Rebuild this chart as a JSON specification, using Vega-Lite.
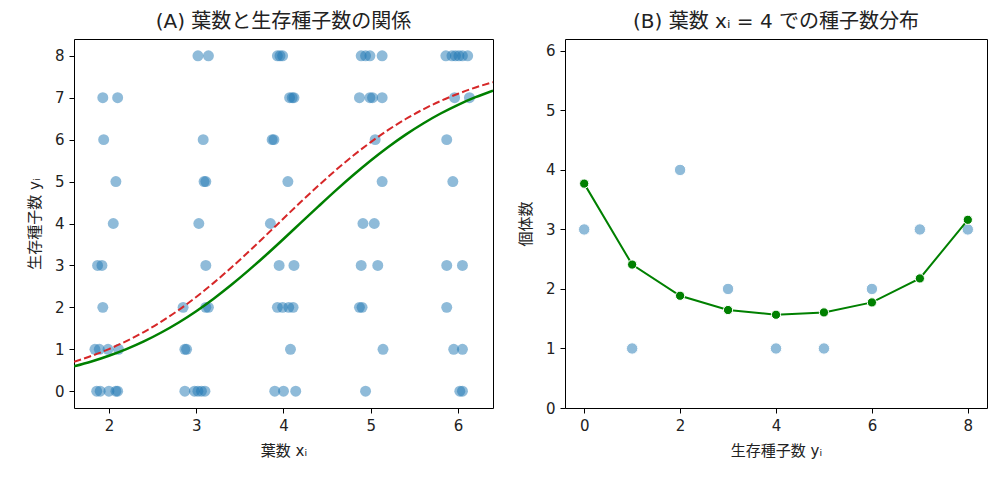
{
  "$schema": "https://vega.github.io/schema/vega-lite/v6.json",
  "padding": {"left": 26, "top": 11, "right": 6, "bottom": 10},
  "spacing": 23,
  "datasets": {
    "seeds": [
      {"x": 1.93, "y": 7}, {"x": 2.10, "y": 7}, {"x": 1.94, "y": 6}, {"x": 2.08, "y": 5}, {"x": 2.05, "y": 4},
      {"x": 1.87, "y": 3}, {"x": 1.92, "y": 3}, {"x": 1.93, "y": 2}, {"x": 1.84, "y": 1}, {"x": 1.89, "y": 1},
      {"x": 1.99, "y": 1}, {"x": 2.11, "y": 1}, {"x": 1.86, "y": 0}, {"x": 1.90, "y": 0}, {"x": 2.00, "y": 0},
      {"x": 2.08, "y": 0}, {"x": 2.10, "y": 0},
      {"x": 3.02, "y": 8}, {"x": 3.14, "y": 8}, {"x": 3.08, "y": 6}, {"x": 3.09, "y": 5}, {"x": 3.11, "y": 5},
      {"x": 3.03, "y": 4}, {"x": 3.11, "y": 3}, {"x": 2.85, "y": 2}, {"x": 3.11, "y": 2}, {"x": 3.14, "y": 2},
      {"x": 2.87, "y": 1}, {"x": 2.89, "y": 1}, {"x": 2.87, "y": 0}, {"x": 2.98, "y": 0}, {"x": 3.02, "y": 0},
      {"x": 3.06, "y": 0}, {"x": 3.10, "y": 0},
      {"x": 3.93, "y": 8}, {"x": 3.96, "y": 8}, {"x": 3.99, "y": 8}, {"x": 4.07, "y": 7}, {"x": 4.10, "y": 7},
      {"x": 4.12, "y": 7}, {"x": 3.87, "y": 6}, {"x": 3.89, "y": 6}, {"x": 4.05, "y": 5}, {"x": 3.85, "y": 4},
      {"x": 3.95, "y": 3}, {"x": 4.12, "y": 3}, {"x": 3.93, "y": 2}, {"x": 3.99, "y": 2}, {"x": 4.06, "y": 2},
      {"x": 4.11, "y": 2}, {"x": 4.08, "y": 1}, {"x": 3.90, "y": 0}, {"x": 4.00, "y": 0}, {"x": 4.14, "y": 0},
      {"x": 4.89, "y": 8}, {"x": 4.94, "y": 8}, {"x": 4.99, "y": 8}, {"x": 5.13, "y": 8}, {"x": 4.87, "y": 7},
      {"x": 4.99, "y": 7}, {"x": 5.02, "y": 7}, {"x": 5.13, "y": 7}, {"x": 5.05, "y": 6}, {"x": 5.13, "y": 5},
      {"x": 4.91, "y": 4}, {"x": 5.04, "y": 4}, {"x": 4.89, "y": 3}, {"x": 5.08, "y": 3}, {"x": 4.87, "y": 2},
      {"x": 4.90, "y": 2}, {"x": 5.14, "y": 1}, {"x": 4.94, "y": 0},
      {"x": 5.86, "y": 8}, {"x": 5.93, "y": 8}, {"x": 5.97, "y": 8}, {"x": 6.01, "y": 8}, {"x": 6.05, "y": 8},
      {"x": 6.11, "y": 8}, {"x": 5.96, "y": 7}, {"x": 6.13, "y": 7}, {"x": 5.87, "y": 6}, {"x": 5.94, "y": 5},
      {"x": 5.87, "y": 3}, {"x": 6.05, "y": 3}, {"x": 5.87, "y": 2}, {"x": 5.95, "y": 1}, {"x": 6.05, "y": 1},
      {"x": 6.02, "y": 0}, {"x": 6.05, "y": 0}
    ],
    "fitGreen": [
      {"x": 1.6, "y": 0.593}, {"x": 1.8, "y": 0.709}, {"x": 2.0, "y": 0.846}, {"x": 2.2, "y": 1.005},
      {"x": 2.4, "y": 1.189}, {"x": 2.6, "y": 1.401}, {"x": 2.8, "y": 1.640}, {"x": 3.0, "y": 1.909},
      {"x": 3.2, "y": 2.207}, {"x": 3.4, "y": 2.532}, {"x": 3.6, "y": 2.881}, {"x": 3.8, "y": 3.249},
      {"x": 4.0, "y": 3.631}, {"x": 4.2, "y": 4.020}, {"x": 4.4, "y": 4.408}, {"x": 4.6, "y": 4.790},
      {"x": 4.8, "y": 5.156}, {"x": 5.0, "y": 5.503}, {"x": 5.2, "y": 5.825}, {"x": 5.4, "y": 6.120},
      {"x": 5.6, "y": 6.386}, {"x": 5.8, "y": 6.623}, {"x": 6.0, "y": 6.831}, {"x": 6.2, "y": 7.012},
      {"x": 6.4, "y": 7.169}
    ],
    "fitRed": [
      {"x": 1.6, "y": 0.703}, {"x": 1.8, "y": 0.842}, {"x": 2.0, "y": 1.005}, {"x": 2.2, "y": 1.195},
      {"x": 2.4, "y": 1.412}, {"x": 2.6, "y": 1.660}, {"x": 2.8, "y": 1.938}, {"x": 3.0, "y": 2.247},
      {"x": 3.2, "y": 2.584}, {"x": 3.4, "y": 2.946}, {"x": 3.6, "y": 3.326}, {"x": 3.8, "y": 3.721},
      {"x": 4.0, "y": 4.120}, {"x": 4.2, "y": 4.517}, {"x": 4.4, "y": 4.904}, {"x": 4.6, "y": 5.274},
      {"x": 4.8, "y": 5.621}, {"x": 5.0, "y": 5.941}, {"x": 5.2, "y": 6.232}, {"x": 5.4, "y": 6.492},
      {"x": 5.6, "y": 6.722}, {"x": 5.8, "y": 6.922}, {"x": 6.0, "y": 7.095}, {"x": 6.2, "y": 7.244},
      {"x": 6.4, "y": 7.370}
    ],
    "hist": [
      {"seeds": 0, "count": 3}, {"seeds": 1, "count": 1}, {"seeds": 2, "count": 4}, {"seeds": 3, "count": 2},
      {"seeds": 4, "count": 1}, {"seeds": 5, "count": 1}, {"seeds": 6, "count": 2}, {"seeds": 7, "count": 3},
      {"seeds": 8, "count": 3}
    ],
    "pred": [
      {"seeds": 0, "expected": 3.77}, {"seeds": 1, "expected": 2.41}, {"seeds": 2, "expected": 1.886},
      {"seeds": 3, "expected": 1.646}, {"seeds": 4, "expected": 1.567}, {"seeds": 5, "expected": 1.606},
      {"seeds": 6, "expected": 1.774}, {"seeds": 7, "expected": 2.177}, {"seeds": 8, "expected": 3.162}
    ]
  },
  "config": {
    "font": "DejaVu Sans, Noto Sans CJK JP, sans-serif",
    "view": {"stroke": "#000", "strokeWidth": 1},
    "axis": {
      "grid": false,
      "domain": false,
      "tickColor": "#000",
      "tickSize": 5,
      "labelPadding": 5,
      "labelFontSize": 15,
      "labelColor": "#222",
      "titleFontSize": 15,
      "titleFontWeight": "normal",
      "titleColor": "#222",
      "format": "d"
    },
    "axisX": {"titlePadding": 10},
    "axisY": {"titlePadding": 12},
    "title": {"fontSize": 20, "fontWeight": "normal", "color": "#222", "offset": 7}
  },
  "hconcat": [
    {
      "width": 419,
      "height": 369,
      "title": "(A) 葉数と生存種子数の関係",
      "layer": [
        {
          "data": {"name": "seeds"},
          "mark": {"type": "circle", "size": 120, "color": "#1f77b4", "opacity": 0.5},
          "encoding": {
            "x": {"field": "x", "type": "quantitative", "scale": {"domain": [1.6, 6.4], "nice": false, "zero": false},
                  "axis": {"values": [2, 3, 4, 5, 6], "title": "葉数 xᵢ"}},
            "y": {"field": "y", "type": "quantitative", "scale": {"domain": [-0.4, 8.4], "nice": false, "zero": false},
                  "axis": {"values": [0, 1, 2, 3, 4, 5, 6, 7, 8], "title": "生存種子数 yᵢ"}}
          }
        },
        {
          "data": {"name": "fitGreen"},
          "mark": {"type": "line", "color": "#008000", "strokeWidth": 2.5, "interpolate": "monotone", "clip": true},
          "encoding": {
            "x": {"field": "x", "type": "quantitative"},
            "y": {"field": "y", "type": "quantitative"}
          }
        },
        {
          "data": {"name": "fitRed"},
          "mark": {"type": "line", "color": "#d62728", "strokeWidth": 2, "strokeDash": [7.4, 3.2], "interpolate": "monotone", "clip": true},
          "encoding": {
            "x": {"field": "x", "type": "quantitative"},
            "y": {"field": "y", "type": "quantitative"}
          }
        }
      ]
    },
    {
      "width": 422,
      "height": 369,
      "title": "(B) 葉数 xᵢ = 4 での種子数分布",
      "layer": [
        {
          "data": {"name": "hist"},
          "mark": {"type": "circle", "size": 130, "fill": "#8fbbd9", "fillOpacity": 1, "stroke": "#ffffff", "strokeWidth": 1},
          "encoding": {
            "x": {"field": "seeds", "type": "quantitative", "scale": {"domain": [-0.4, 8.4], "nice": false, "zero": false},
                  "axis": {"values": [0, 2, 4, 6, 8], "title": "生存種子数 yᵢ"}},
            "y": {"field": "count", "type": "quantitative", "scale": {"domain": [0, 6.2], "nice": false},
                  "axis": {"values": [0, 1, 2, 3, 4, 5, 6], "title": "個体数"}}
          }
        },
        {
          "data": {"name": "pred"},
          "mark": {"type": "line", "color": "#008000", "strokeWidth": 2},
          "encoding": {
            "x": {"field": "seeds", "type": "quantitative"},
            "y": {"field": "expected", "type": "quantitative"}
          }
        },
        {
          "data": {"name": "pred"},
          "mark": {"type": "circle", "size": 85, "fill": "#008000", "fillOpacity": 1, "stroke": "#ffffff", "strokeWidth": 1},
          "encoding": {
            "x": {"field": "seeds", "type": "quantitative"},
            "y": {"field": "expected", "type": "quantitative"}
          }
        }
      ]
    }
  ]
}
